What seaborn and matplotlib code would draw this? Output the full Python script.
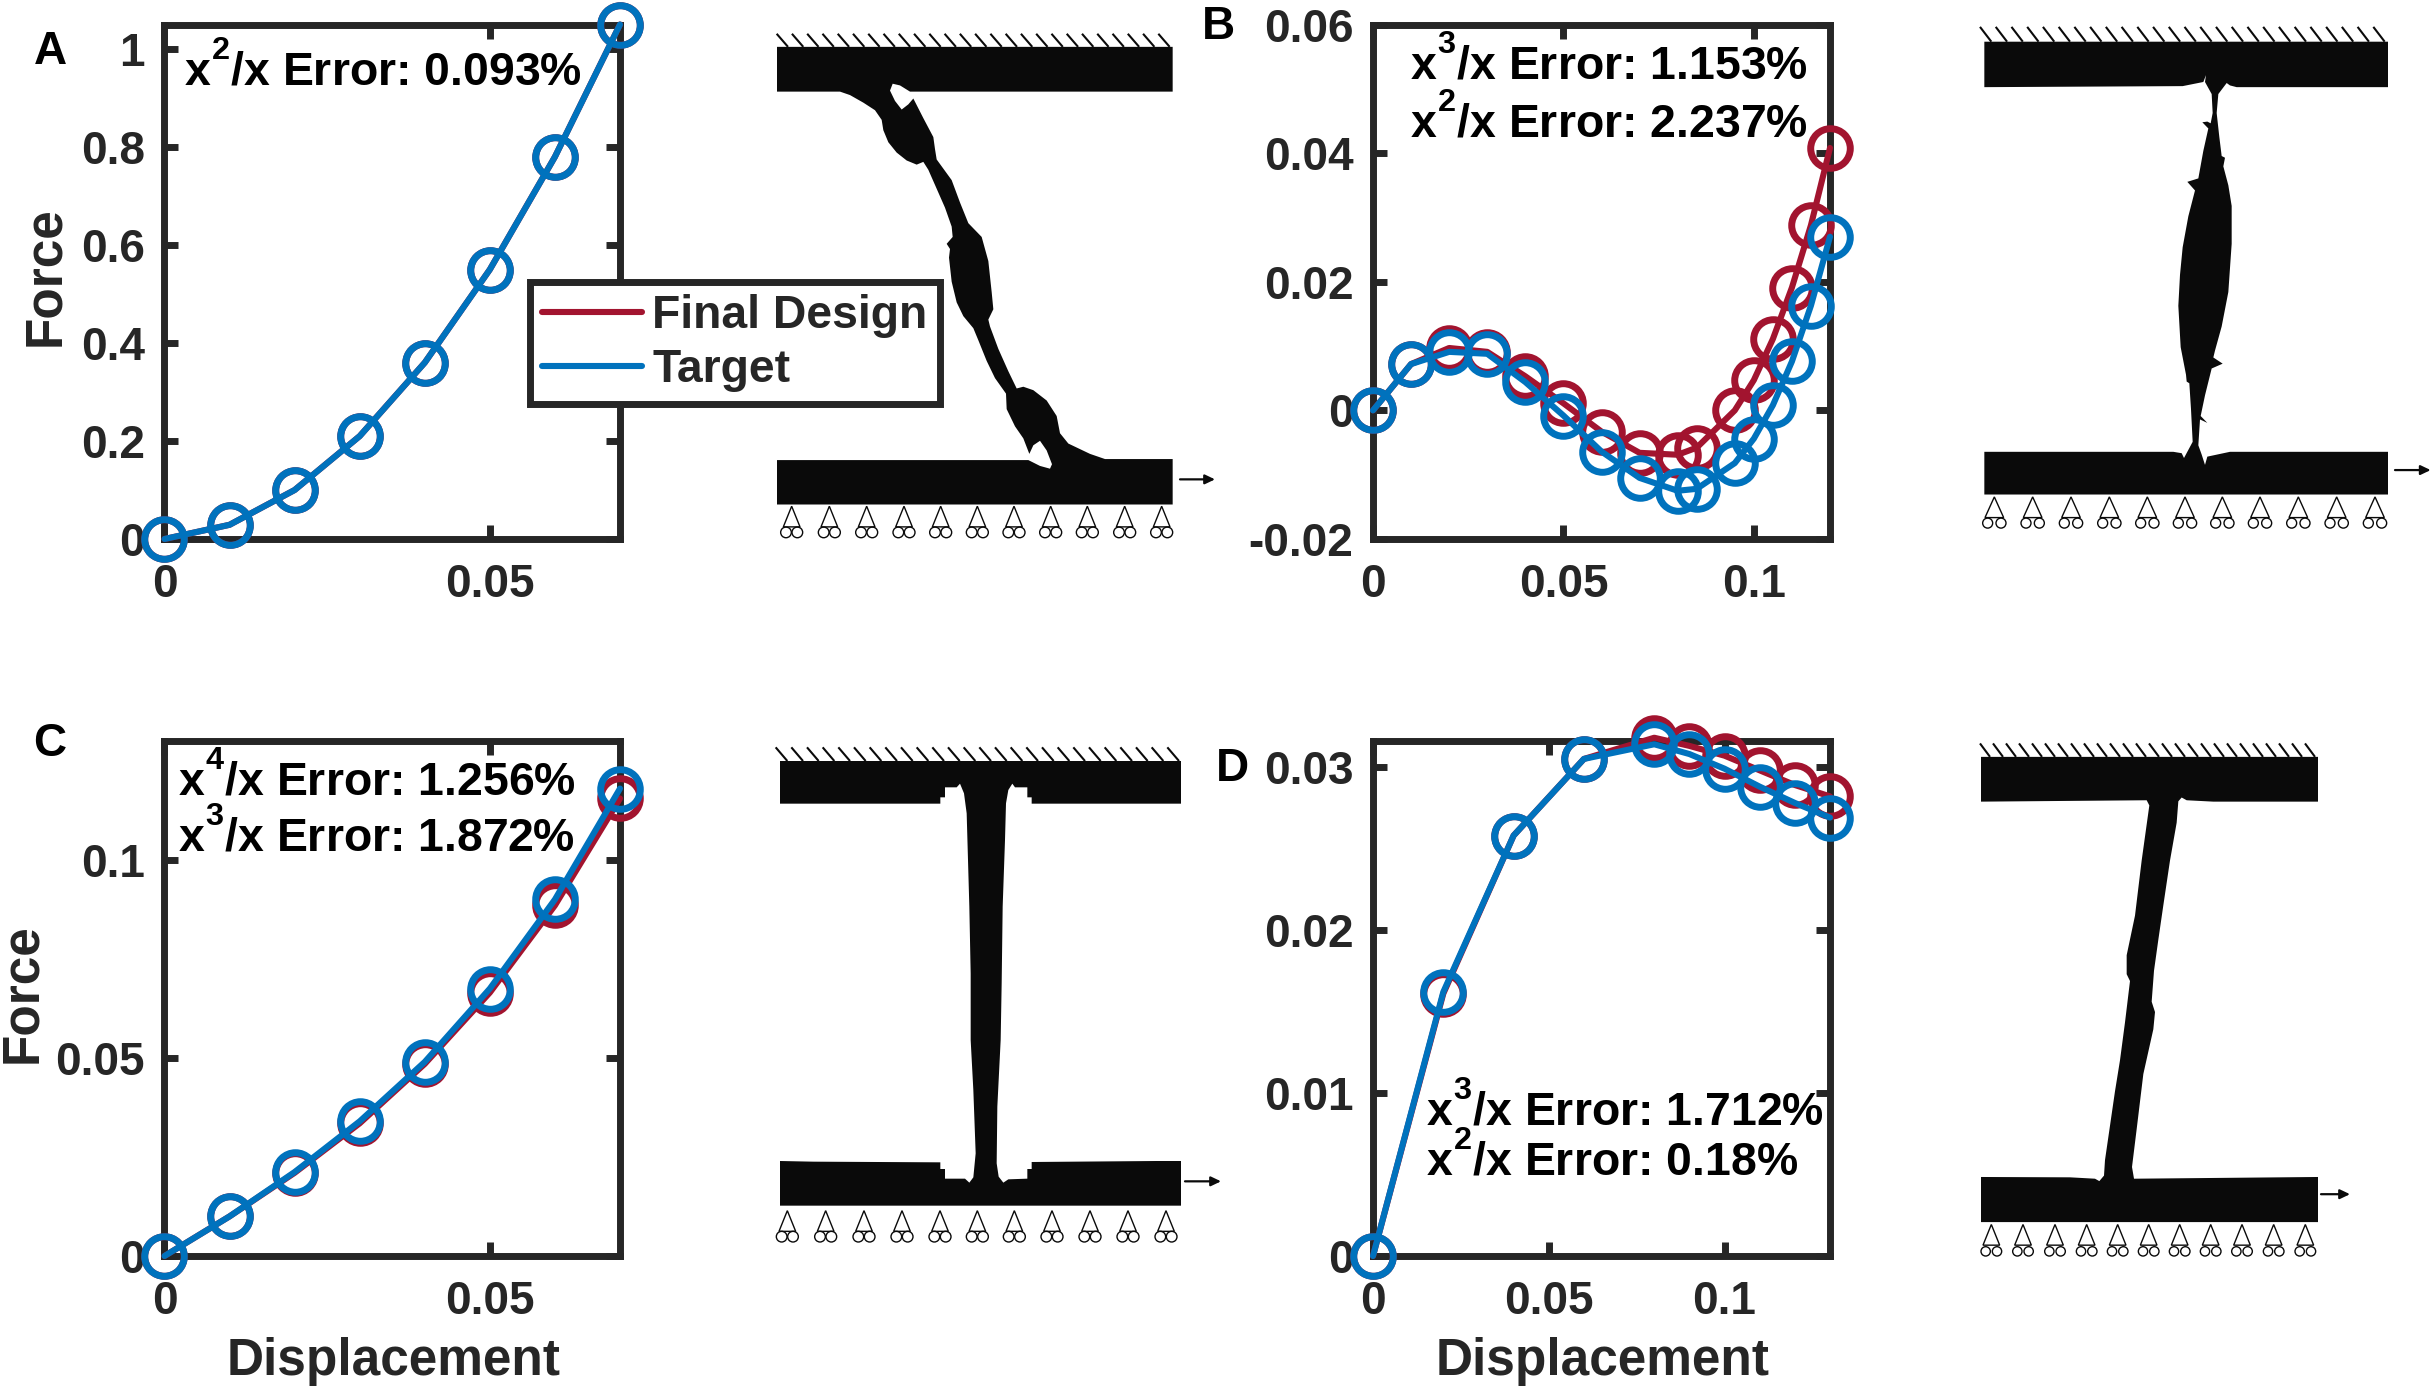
import numpy as np
import pandas as pd
import matplotlib
matplotlib.use("Agg")
import matplotlib.pyplot as plt
import matplotlib._mathtext as mathtext_internals
from matplotlib.lines import Line2D
from matplotlib.patches import Polygon, Circle
import seaborn as sns

# superscripts sit higher in the reference than the mathtext default
mathtext_internals.FontConstantsBase.sup1 = 1.05
mathtext_internals.FontConstantsBase.delta = 0.08

W, H = 2432, 1387
RED, BLUE, DARK, INK = "#A2142F", "#0072BD", "#262626", "#0A0A0A"

# ---------- chart data ----------
xA = [0, 0.01, 0.02, 0.03, 0.04, 0.05, 0.06, 0.07]
designA = [0, 0.029, 0.10, 0.21, 0.36, 0.55, 0.78, 1.05]
targetA = [0, 0.029, 0.10, 0.21, 0.36, 0.55, 0.78, 1.05]

xB = [0, 0.01, 0.02, 0.03, 0.04, 0.05, 0.06, 0.07, 0.08, 0.085, 0.095, 0.10, 0.105, 0.11, 0.115, 0.12]
designB = [0, 0.0072, 0.0097, 0.0091, 0.0053, 0.0011, -0.0033, -0.0066, -0.0069, -0.0058, 0.0, 0.0047, 0.0111, 0.0191, 0.0288, 0.0408]
targetB = [0, 0.0072, 0.0091, 0.0088, 0.0044, -0.0008, -0.0064, -0.0105, -0.0125, -0.0122, -0.0082, -0.0044, 0.0008, 0.0076, 0.0163, 0.0270]

xC = [0, 0.01, 0.02, 0.03, 0.04, 0.05, 0.06, 0.07]
designC = [0, 0.0100, 0.0210, 0.0335, 0.0485, 0.0665, 0.0885, 0.1155]
targetC = [0, 0.0100, 0.0212, 0.0340, 0.0490, 0.0675, 0.0900, 0.1180]

xD = [0, 0.02, 0.04, 0.06, 0.08, 0.09, 0.10, 0.11, 0.12, 0.13]
designD = [0, 0.0161, 0.0258, 0.0305, 0.0318, 0.0313, 0.0307, 0.0298, 0.0289, 0.0282]
targetD = [0, 0.0162, 0.0258, 0.0305, 0.0314, 0.0308, 0.0299, 0.0288, 0.0278, 0.0269]

xticksA = [0, 0.05]
xticksB = [0, 0.05, 0.1]
yticksA = [0, 0.2, 0.4, 0.6, 0.8, 1]
yticksB = [-0.02, 0, 0.02, 0.04, 0.06]
yticksC = [0, 0.05, 0.1]
yticksD = [0, 0.01, 0.02, 0.03]

# ---------- schematic outlines (crop coordinates) ----------
shapeA = [(51,78),(1238,78),(1238,208),(450,208),(420,190),(398,185),(390,205),(405,235),(425,260),(445,245),(460,228),
          (490,285),(520,340),(525,375),(530,405),(575,465),(600,530),(625,590),(665,630),(685,700),(695,790),(700,840),
          (685,870),(690,890),(715,955),(745,1020),(770,1070),(790,1065),(820,1075),(860,1105),(890,1150),(900,1200),
          (925,1230),(990,1260),(1035,1275),(1238,1275),(1238,1407),(51,1407),(51,1278),(805,1278),(840,1295),(870,1303),
          (876,1290),(860,1250),(840,1222),(820,1235),(808,1260),(790,1215),(765,1180),(740,1130),(738,1085),(705,1040),
          (680,990),(655,930),(640,895),(610,860),(590,820),(575,760),(567,690),(570,665),(560,650),(578,630),(575,600),
          (555,545),(530,490),(505,435),(490,412),(470,420),(440,408),(410,385),(385,355),(370,320),(365,290),(345,262),
          (310,240),(270,218),(240,208),(51,208)]
shapeB = [(73,63),(1284,63),(1284,195),(830,195),(810,190),(800,183),(775,215),(770,270),(778,340),(785,395),(795,400),
          (790,425),(805,480),(815,540),(815,650),(805,790),(785,890),(765,960),(760,980),(788,998),(755,1012),(735,1090),
          (722,1150),(742,1170),(720,1160),(715,1235),(725,1262),(735,1292),(742,1268),(810,1254),(1284,1254),(1284,1378),
          (73,1378),(73,1254),(640,1254),(665,1258),(672,1272),(698,1225),(693,1130),(688,1055),(680,1050),(678,1030),
          (662,950),(655,830),(660,740),(668,660),(685,570),(705,495),(682,470),(715,460),(730,380),(745,315),(727,297),
          (742,295),(752,300),(758,270),(755,215),(735,180),(738,160),(730,180),(668,192),(73,195)]
shapeC = [(60,63),(1263,63),(1263,191),(815,191),(815,172),(802,172),(802,142),(765,142),(757,131),(745,150),(738,190),
          (735,300),(728,500),(725,730),(722,900),(712,1100),(710,1270),(716,1310),(730,1328),(745,1318),(802,1316),
          (802,1287),(815,1287),(815,1266),(1190,1263),(1263,1263),(1263,1397),(60,1397),(60,1263),(160,1265),(541,1267),
          (541,1287),(555,1287),(555,1316),(615,1316),(628,1328),(640,1312),(647,1240),(640,1050),(632,900),(632,700),
          (628,500),(620,220),(612,160),(600,131),(590,142),(555,142),(555,172),(541,172),(541,191),(60,191)]
shapeD = [(63,49),(1074,49),(1074,179),(760,179),(680,175),(665,167),(655,178),(650,240),(630,350),(610,480),(595,580),
          (582,670),(575,760),(585,790),(580,840),(550,970),(530,1130),(516,1240),(522,1274),(1074,1269),(1074,1400),
          (63,1400),(63,1269),(330,1270),(405,1274),(418,1281),(432,1265),(435,1220),(465,1020),(480,930),(495,820),
          (510,700),(500,680),(500,625),(525,510),(545,350),(568,190),(560,175),(63,179)]

rollersA = [95,208,320,432,542,652,762,872,982,1094,1205]
rollersB = [103,218,333,448,562,675,787,900,1015,1130,1245]
rollersC = [82,197,312,426,540,652,763,876,990,1104,1218]
rollersD = [94,189,285,380,473,566,659,752,846,941,1036]

# ---------- theme ----------
sns.set_theme(style="white")
plt.rcParams["font.family"] = ["Liberation Sans", "DejaVu Sans"]
plt.rcParams["font.weight"] = "bold"
plt.rcParams["mathtext.default"] = "regular"
plt.rcParams["axes.unicode_minus"] = False

fig = plt.figure(figsize=(W / 100, H / 100), dpi=100, facecolor="white")


def fx(p):
    return p / W


def fy(p):
    return 1 - p / H


# ---------- schematics ----------
over = fig.add_axes([0, 0, 1, 1], zorder=0)
over.set_xlim(0, W)
over.set_ylim(H, 0)
over.axis("off")


def schematic(origin, scale, outline, hatch, rollers, roller_geo, arrow):
    ox, oy = origin
    sx, sy = scale
    px = lambda v: ox + v / sx
    py = lambda v: oy + v / sy
    pts = [(px(a), py(b)) for a, b in outline]
    over.add_patch(Polygon(pts, closed=True, fc=INK, ec="none"))
    h0, h1, n, dx, ytop, ybot = hatch
    for x0 in np.linspace(h0, h1, n):
        over.plot([px(x0), px(x0 + dx)], [py(ytop), py(ybot)], color=INK, lw=1.5, solid_capstyle="butt")
    apex, base, cy, off, r = roller_geo
    for rx in rollers:
        half = off + 8
        over.add_patch(Polygon([(px(rx), py(apex)), (px(rx - half), py(base)), (px(rx + half), py(base))],
                               closed=True, fc="none", ec=INK, lw=1.0))
        for s in (-1, 1):
            over.add_patch(Circle((px(rx + s * off), py(cy)), r / sx, fc="none", ec=INK, lw=1.0))
    a0, a1, ay = arrow
    over.annotate("", xy=(px(a1), py(ay)), xytext=(px(a0), py(ay)),
                  arrowprops=dict(arrowstyle="-|>,head_length=0.42,head_width=0.2", lw=1.6, color=INK,
                                  shrinkA=0, shrinkB=0, mutation_scale=14))


schematic((760, 20), (3, 2.904), shapeA, (50, 1195, 26, 34, 40, 78), rollersA, (1412, 1472, 1488, 17, 16), (1260, 1365, 1334))
schematic((1960, 20), (3, 2.904), shapeB, (60, 1240, 26, 34, 20, 63), rollersB, (1385, 1445, 1461, 20, 15), (1305, 1412, 1307))
schematic((760, 740), (3, 3), shapeC, (47, 1222, 26, 35, 22, 63), rollersC, (1412, 1474, 1490, 17, 16), (1275, 1383, 1324))
schematic((1960, 740), (3, 2.904), shapeD, (60, 1035, 26, 30, 10, 49), rollersD, (1407, 1467, 1485, 17, 14), (1083, 1170, 1319))


# ---------- plots ----------
def panel(box, x, design, target, xlim, ylim, xticks, yticks, xlabels, ylabels):
    l, r, t, b = box
    ax = fig.add_axes([fx(l), fy(b), (r - l) / W, (b - t) / H], zorder=1)
    style = dict(marker="o", markersize=28.5, markerfacecolor="none", markeredgewidth=5,
                 linewidth=4.4, clip_on=False, zorder=3, estimator=None, sort=False, legend=False, ax=ax)
    df = pd.DataFrame({"x": x, "design": design, "target": target})
    sns.lineplot(data=df, x="x", y="design", color=RED, markeredgecolor=RED, **style)
    sns.lineplot(data=df, x="x", y="target", color=BLUE, markeredgecolor=BLUE, **style)
    ax.set_xlim(*xlim)
    ax.set_ylim(*ylim)
    ax.set_xticks(xticks)
    ax.set_xticklabels(xlabels)
    ax.set_yticks(yticks)
    ax.set_yticklabels(ylabels)
    ax.set_xlabel("")
    ax.set_ylabel("")
    ax.tick_params(direction="in", length=10, width=5, color=DARK, labelcolor=DARK, labelsize=33,
                   top=True, right=True, bottom=True, left=True, pad=14)
    ax.tick_params(axis="x", pad=17)
    for lab in ax.get_xticklabels() + ax.get_yticklabels():
        lab.set_fontweight("bold")
    for s in ax.spines.values():
        s.set_visible(True)
        s.set_color(DARK)
        s.set_linewidth(5)
    return ax


axA = panel((164.5, 620, 24.5, 539), xA, designA, targetA, (0, 0.07), (0, 1.05), xticksA, yticksA,
            ["0", "0.05"], ["0", "0.2", "0.4", "0.6", "0.8", "1"])
axB = panel((1373, 1830, 24.5, 539), xB, designB, targetB, (0, 0.12), (-0.02, 0.06), xticksB, yticksB,
            ["0", "0.05", "0.1"], ["-0.02", "0", "0.02", "0.04", "0.06"])
axC = panel((164.5, 620, 741, 1256), xC, designC, targetC, (0, 0.07), (0, 0.13), xticksA, yticksC,
            ["0", "0.05"], ["0", "0.05", "0.1"])
axD = panel((1373, 1830, 741, 1256), xD, designD, targetD, (0, 0.13), (0, 0.0316), xticksB, yticksD,
            ["0", "0.05", "0.1"], ["0", "0.01", "0.02", "0.03"])

for ax, xc in ((axC, 0.504), (axD, 0.503)):
    ax.set_xlabel("Displacement", fontsize=37, fontweight="bold", color=DARK, va="center")
    ax.xaxis.set_label_coords(xc, -0.204)
axA.set_ylabel("Force", fontsize=37, fontweight="bold", color=DARK, va="center", ha="center")
axA.yaxis.set_label_coords(-0.261, 0.51)
axC.set_ylabel("Force", fontsize=37, fontweight="bold", color=DARK, va="center", ha="center")
axC.yaxis.set_label_coords(-0.311, 0.51)

# ---------- legend ----------
handles = [Line2D([], [], color=RED, lw=4.4), Line2D([], [], color=BLUE, lw=4.4)]
leg = axA.legend(handles, ["Final Design", "Target"], loc="upper left",
                 bbox_to_anchor=(fx(530), fy(282)), bbox_transform=fig.transFigure, borderaxespad=0,
                 fancybox=False, framealpha=1, edgecolor=DARK, facecolor="white",
                 prop=dict(size=33.3, weight="bold", family="Liberation Sans"),
                 handlelength=2.15, handletextpad=0.22, borderpad=0.27, labelspacing=0.2)
leg.get_frame().set_linewidth(5)
leg.set_zorder(10)

# ---------- annotations ----------
notes = [
    (184.5, 86, r"$x^{2}$/x Error: 0.093%"),
    (1410, 80, r"$x^{3}$/x Error: 1.153%"),
    (1410, 138, r"$x^{2}$/x Error: 2.237%"),
    (178.5, 796, r"$x^{4}$/x Error: 1.256%"),
    (178.5, 851, r"$x^{3}$/x Error: 1.872%"),
    (1425.5, 1125, r"$x^{3}$/x Error: 1.712%"),
    (1425.5, 1175, r"$x^{2}$/x Error: 0.18%"),
]
for nx, ny, s in notes:
    fig.text(fx(nx), fy(ny), s, fontsize=33.4, fontweight="bold", color="black", ha="left", va="baseline", zorder=20)

for s, lx, ly in (("A", 50, 52), ("B", 1218, 27), ("C", 50, 744), ("D", 1232, 769)):
    fig.text(fx(lx), fy(ly), s, fontsize=33, fontweight="bold", color="black", ha="center", va="center", zorder=20)

fig.savefig("out.png", dpi=100, facecolor="white")
